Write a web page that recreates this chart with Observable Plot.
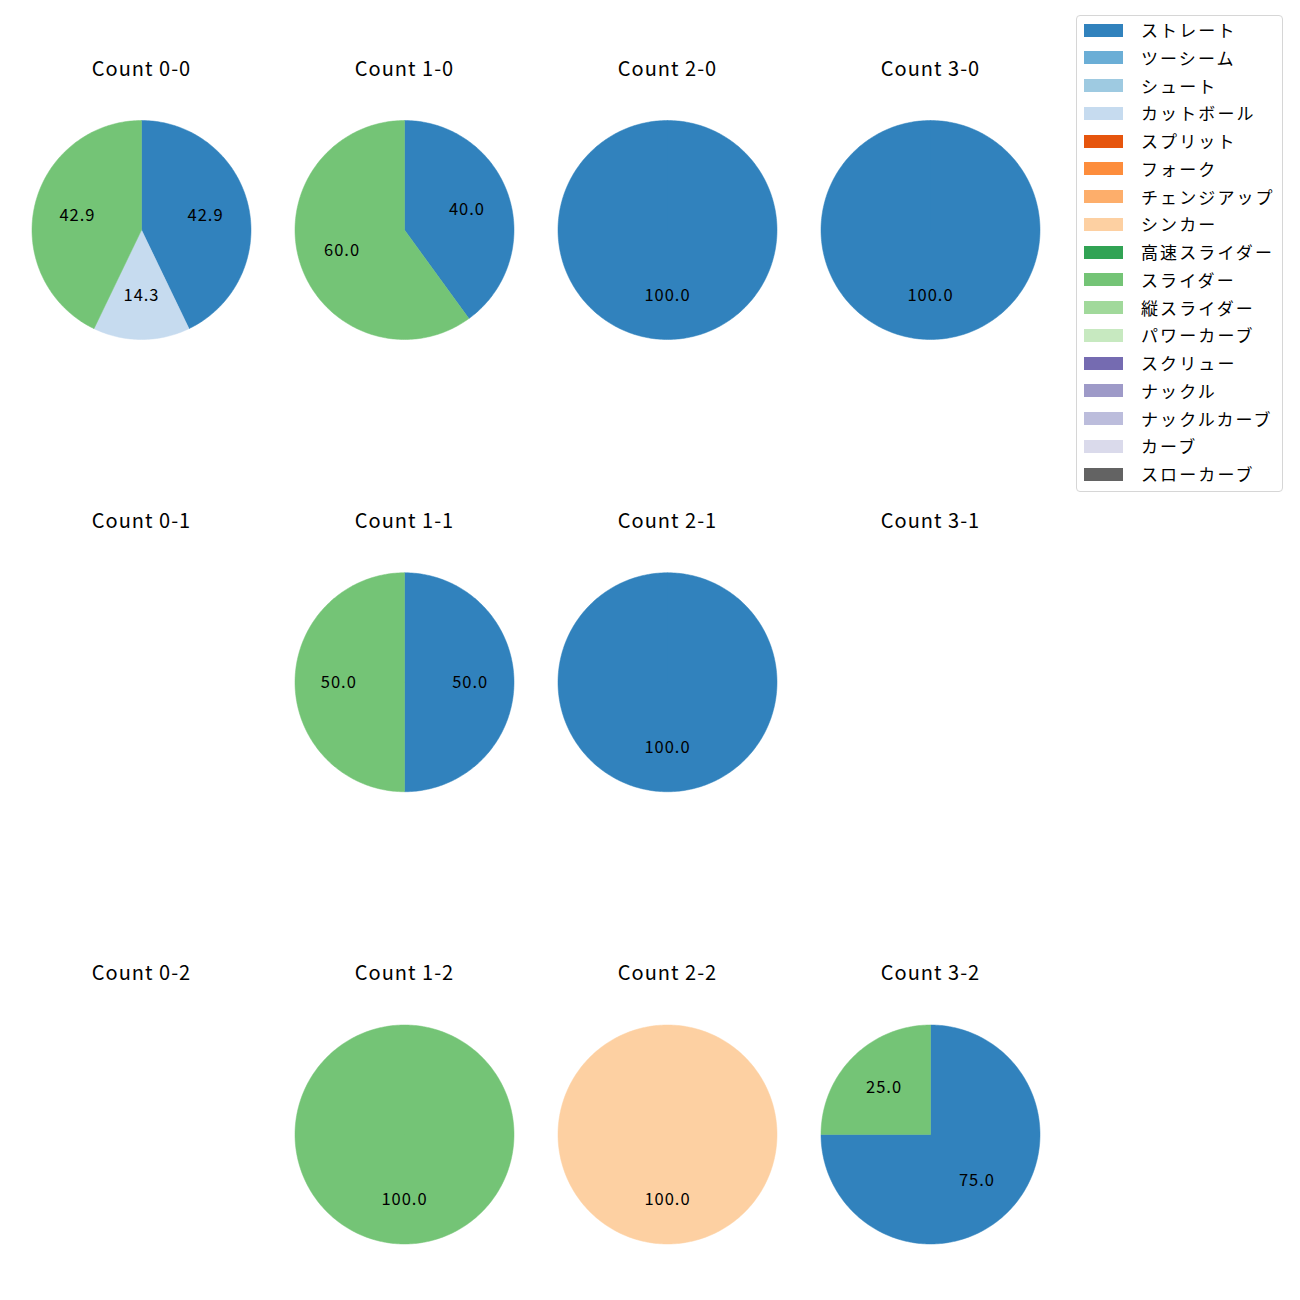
<!DOCTYPE html>
<html>
<head>
<meta charset="utf-8">
<script src="https://cdn.jsdelivr.net/npm/d3@7"></script>
<script src="https://cdn.jsdelivr.net/npm/@observablehq/plot@0.6"></script>
<style>
  body { margin: 0; background: #fff; font-family: "Noto Sans CJK JP", sans-serif; }
  #wrap { position: relative; width: 1300px; height: 1300px; }
  #chart svg text { letter-spacing: 1px; }
  #legend { position: absolute; left: 1076px; top: 15px; width: 207px; height: 477px;
    border: 1px solid #d6d6d6; border-radius: 4px; box-sizing: border-box; background: #fff; }
  .row { position: absolute; left: 0; height: 28px; }
  .sw { position: absolute; left: 7px; top: 7.5px; width: 39px; height: 13px; }
  .lab { position: absolute; left: 64px; top: 0; white-space: nowrap; font-size: 17px; color: #000; line-height: 28px; letter-spacing: 2.1px; }
</style>
</head>
<body>
<div id="wrap"><div id="chart"></div><div id="legend"></div></div>
<script>
const pitchTypes = ["ストレート","ツーシーム","シュート","カットボール","スプリット","フォーク","チェンジアップ","シンカー","高速スライダー","スライダー","縦スライダー","パワーカーブ","スクリュー","ナックル","ナックルカーブ","カーブ","スローカーブ"];
const pitchColors = ["#3182bd","#6baed6","#9ecae1","#c6dbef","#e6550d","#fd8d3c","#fdae6b","#fdd0a2","#31a354","#74c476","#a1d99b","#c7e9c0","#756bb1","#9e9ac8","#bcbddc","#dadaeb","#636363"];

// counts as balls-strikes
const countBalls   = [0,1,2,3,0,1,2,3,0,1,2,3];
const countStrikes = [0,0,0,0,1,1,1,1,2,2,2,2];

// slices (percent per count)
const sliceCount = ["0-0","0-0","0-0","1-0","1-0","2-0","3-0","1-1","1-1","2-1","1-2","2-2","3-2","3-2"];
const sliceType  = ["ストレート","カットボール","スライダー","ストレート","スライダー","ストレート","ストレート","ストレート","スライダー","ストレート","スライダー","シンカー","ストレート","スライダー"];
const slicePct   = [42.9,14.3,42.9,40.0,60.0,100.0,100.0,50.0,50.0,100.0,100.0,100.0,75.0,25.0];

// build tables
const counts = countBalls.map((b, i) => ({b, s: countStrikes[i], label: `${b}-${countStrikes[i]}`}));
const slices = sliceCount.map((c, i) => {
  const [b, s] = c.split("-").map(Number);
  return {id: i, count: c, b, s, type: sliceType[i], pct: slicePct[i]};
});
const totals = d3.rollup(slices, v => d3.sum(v, d => d.pct), d => d.count);
const cum = new Map();
const polys = [];
const labels = [];
for (const sl of slices) {
  const tot = totals.get(sl.count);
  const start = cum.get(sl.count) || 0;
  const end = start + sl.pct;
  cum.set(sl.count, end);
  const a0 = start / tot * 2 * Math.PI, a1 = end / tot * 2 * Math.PI;
  const n = Math.max(2, Math.ceil((a1 - a0) / (Math.PI / 180)));
  polys.push({id: sl.id, b: sl.b, s: sl.s, type: sl.type, x: 0, y: 0});
  for (let k = 0; k <= n; k++) {
    const a = a0 + (a1 - a0) * k / n;
    polys.push({id: sl.id, b: sl.b, s: sl.s, type: sl.type, x: Math.sin(a), y: Math.cos(a)});
  }
  polys.push({id: sl.id, b: sl.b, s: sl.s, type: sl.type, x: 0, y: 0});
  const am = (a0 + a1) / 2;
  labels.push({b: sl.b, s: sl.s, x: 0.6 * Math.sin(am), y: 0.6 * Math.cos(am), text: sl.pct.toFixed(1)});
}

const R = 109.5; // px per unit radius
const chart = Plot.plot({
  width: 1300,
  height: 1300,
  marginLeft: 9.5,
  marginRight: 238.5,
  marginTop: 39.5,
  marginBottom: 46,
  style: {fontFamily: "'Noto Sans CJK JP', sans-serif", background: "transparent"},
  fx: {domain: [0,1,2,3], paddingInner: 0, paddingOuter: 0, round: false, axis: null},
  fy: {domain: [0,1,2], paddingInner: 0.3145, paddingOuter: 0, round: false, axis: null},
  x: {domain: [-131.5 / R, 131.5 / R], axis: null},
  y: {domain: [-120 / R, 190 / R], axis: null},
  color: {domain: pitchTypes, range: pitchColors},
  marks: [
    Plot.line(polys, {x: "x", y: "y", z: "id", fill: "type", stroke: "type", strokeWidth: 0.5, fx: "b", fy: "s", curve: "linear"}),
    Plot.text(labels, {x: "x", y: "y", text: "text", fx: "b", fy: "s", fontSize: 16.5, fill: "black"}),
    Plot.text(counts, {fx: "b", fy: "s", text: d => "Count " + d.label, frameAnchor: "top", dy: 29.5, lineAnchor: "middle", fontSize: 20, fill: "black"})
  ]
});
document.getElementById("chart").appendChild(chart);

// legend
const legend = document.getElementById("legend");
pitchTypes.forEach((t, i) => {
  const row = document.createElement("div");
  row.className = "row";
  row.style.top = (i * 27.75) + "px";
  row.style.width = "100%";
  const sw = document.createElement("div");
  sw.className = "sw";
  sw.style.background = pitchColors[i];
  const lab = document.createElement("div");
  lab.className = "lab";
  lab.textContent = t;
  row.appendChild(sw);
  row.appendChild(lab);
  legend.appendChild(row);
});
</script>
</body>
</html>
